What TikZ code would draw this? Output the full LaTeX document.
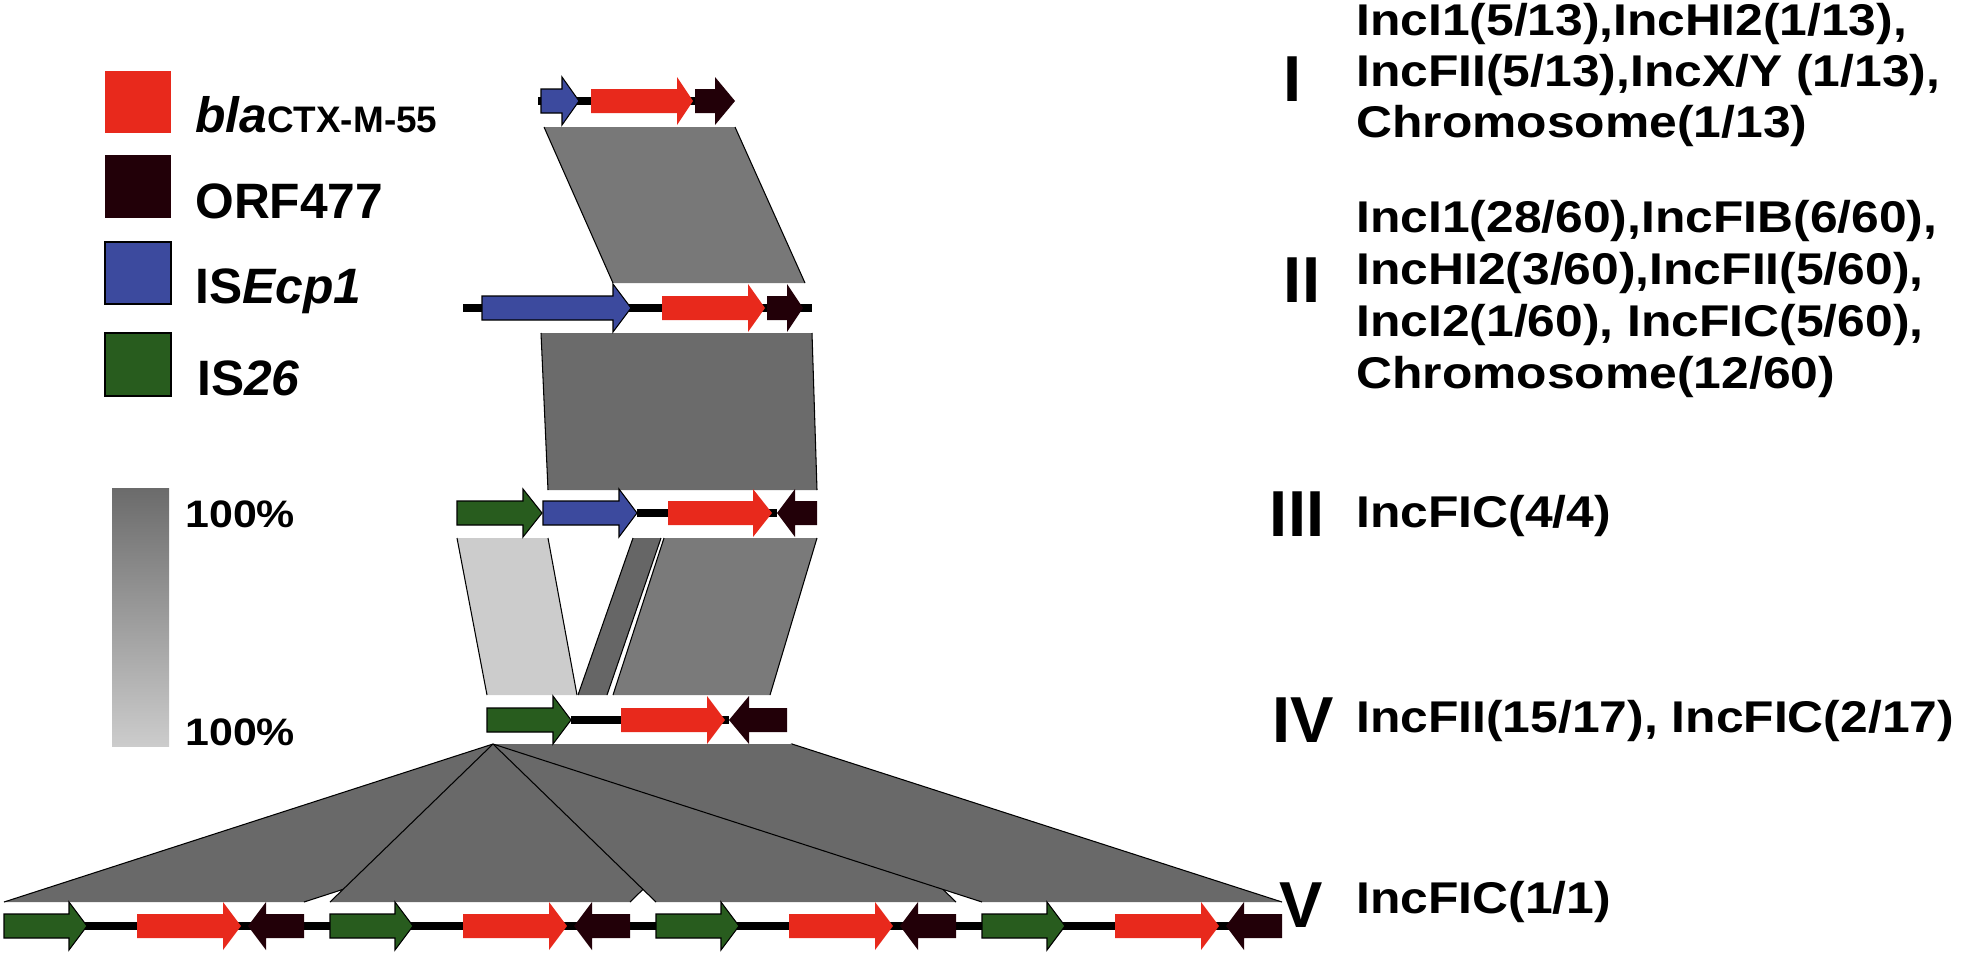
\documentclass[tikz,border=0pt]{standalone}
\usepackage{fontspec}
\setmainfont{Liberation Sans}
\newfontfamily\widefont[FakeStretch=1.12]{Liberation Sans}
\definecolor{blared}{RGB}{232,41,28}
\definecolor{orfdark}{RGB}{34,0,8}
\definecolor{isblue}{RGB}{60,74,158}
\definecolor{isgreen}{RGB}{40,92,30}
\newcommand{\gene}[5]{\filldraw[#5] (#1,#4-12) -- (#2,#4-12) -- (#2,#4-24) -- (#3,#4) -- (#2,#4+24) -- (#2,#4+12) -- (#1,#4+12) -- cycle;}
\newcommand{\hlink}[7]{\fill[#7] (#1,#2) -- (#3,#2) -- (#4,#5) -- (#6,#5) -- cycle;
	\draw[linkedge] (#1,#2) -- (#6,#5) (#3,#2) -- (#4,#5);}

\begin{document}
\begin{tikzpicture}[x=0.02cm,y=-0.02cm,
	bla/.style={fill=blared,draw=none},
	orf/.style={fill=orfdark,draw=none},
	ecp/.style={fill=isblue,draw=black,line width=0.6pt},
	istw/.style={fill=isgreen,draw=black,line width=0.6pt},
	backbone/.style={line width=4.5pt},
	linkedge/.style={line width=0.6pt},
	legtext/.style={anchor=base west,inner sep=0pt,font=\bfseries\fontsize{28.3}{30}\selectfont},
	roman/.style={inner sep=0pt,font=\bfseries\fontsize{37}{38}\selectfont},
	inc/.style={anchor=base west,inner sep=0pt,font=\widefont\bfseries\fontsize{25.3}{27}\selectfont},
	pct/.style={anchor=base west,inner sep=0pt,font=\widefont\bfseries\fontsize{21.8}{23}\selectfont}]
	\useasboundingbox (0,0) rectangle (1966,957);

	\fill[blared] (105,71) rectangle (171,133);
	\fill[orfdark] (105,155) rectangle (171,218);
	\filldraw[ecp] (105,242) rectangle (171,304);
	\filldraw[istw] (105,333) rectangle (171,396);
	\node[legtext] (lgbla) at (195,132) {\itshape bla{\upshape\fontsize{21}{22}\selectfont CTX-M-55}};
	\node[legtext] (lgorf) at (195,218) {ORF477};
	\node[legtext] (lgecp) at (195,303) {IS\textit{Ecp1}};
	\node[legtext] (lgis) at (197,395) {IS\textit{26}};

	\shade[top color=black!58,bottom color=black!20] (112,488) rectangle (169,746);
	\node[pct] (pcttop) at (185,527) {100\%};
	\node[pct] (pctbot) at (185,745) {100\%};

	\hlink{544}{127}{735}{805}{283}{613}{black!53}
	\hlink{541}{333}{812}{817}{490}{548}{black!58}
	\hlink{457}{538}{548}{577}{695}{487}{black!20}
	\hlink{633}{538}{661}{607}{695}{578}{black!60}
	\hlink{664}{538}{817}{770}{695}{613}{black!52}
	\foreach \s in {0,326,652,978} {
		\hlink{493}{744}{792}{304+\s}{902}{4+\s}{black!59}
	}

	\draw[backbone] (538,101) -- (695,101);
	\gene{541}{562}{579}{101}{ecp}
	\gene{591}{677}{693}{101}{bla}
	\gene{695}{715}{735}{101}{orf}

	\draw[backbone] (463,308) -- (812,308);
	\gene{482}{613}{631}{308}{ecp}
	\gene{662}{748}{765}{308}{bla}
	\gene{767}{787}{803}{308}{orf}

	\draw[backbone] (637,513) -- (777,513);
	\gene{457}{523}{542}{513}{istw}
	\gene{543}{619}{637}{513}{ecp}
	\gene{668}{753}{772}{513}{bla}
	\gene{817}{795}{777}{513}{orf}

	\draw[backbone] (571,720) -- (729,720);
	\gene{487}{553}{571}{720}{istw}
	\gene{621}{707}{725}{720}{bla}
	\gene{787}{749}{729}{720}{orf}

	\draw[backbone] (4,926) -- (1282,926);
	\foreach \s in {0,326,652,978} {
		\gene{4+\s}{69+\s}{87+\s}{926}{istw}
		\gene{137+\s}{223+\s}{241+\s}{926}{bla}
		\gene{304+\s}{266+\s}{248+\s}{926}{orf}
	}

	\node[roman] (rI) at (1293,79) {I};
	\node[roman] (rII) at (1302,280) {II};
	\node[roman] (rIII) at (1297,514) {III};
	\node[roman] (rIV) at (1303,720) {IV};
	\node[roman] (rV) at (1301,905) {V};

	\foreach \txt [count=\k] in {{IncI1(5/13),IncHI2(1/13),},{IncFII(5/13),IncX/Y (1/13),},{Chromosome(1/13)}}
		\node[inc] (incI-\k) at (1356,35+51*\k-51) {\txt};
	\foreach \txt [count=\k] in {{IncI1(28/60),IncFIB(6/60),},{IncHI2(3/60),IncFII(5/60),},{IncI2(1/60), IncFIC(5/60),},{Chromosome(12/60)}}
		\node[inc] (incII-\k) at (1356,232+52*\k-52) {\txt};
	\node[inc] (incIII) at (1356,527) {IncFIC(4/4)};
	\node[inc] (incIV) at (1356,732) {IncFII(15/17), IncFIC(2/17)};
	\node[inc] (incV) at (1356,913) {IncFIC(1/1)};
\end{tikzpicture}
\end{document}
